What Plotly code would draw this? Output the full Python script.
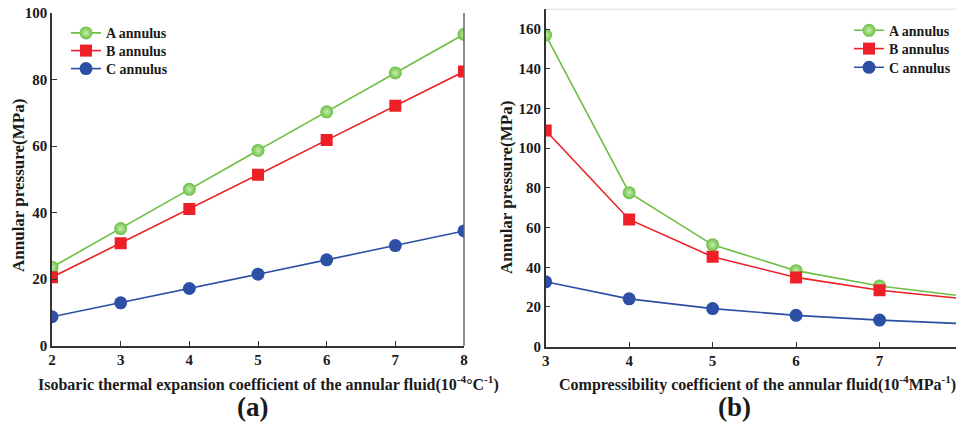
import plotly.graph_objects as go

# ---- data ----
x_a = [2, 3, 4, 5, 6, 7, 8]
a_ann_a = [23.6, 35.2, 47.0, 58.7, 70.3, 82.0, 93.6]
b_ann_a = [20.6, 30.8, 41.1, 51.4, 61.8, 72.1, 82.4]
c_ann_a = [8.7, 12.9, 17.2, 21.5, 25.8, 30.1, 34.5]

x_b = [3, 4, 5, 6, 7, 8]
a_ann_b = [157.0, 77.6, 51.3, 38.3, 30.6, 25.5]
b_ann_b = [108.9, 64.1, 45.3, 34.9, 28.4, 24.2]
c_ann_b = [32.7, 24.1, 19.2, 15.8, 13.4, 11.6]

yticks_a = [0, 20, 40, 60, 80, 100]
yticks_b = [0, 20, 40, 60, 80, 100, 120, 140, 160]

series_names = ["A annulus", "B annulus", "C annulus"]
GREEN, RED, BLUE = "#6bbf42", "#ee1f26", "#2d4fa5"
FONT = "Liberation Serif, Times New Roman, serif"
TXT = "#1a1a1a"

# page body has an 8px margin; positions below are in screen px minus 8
W, H = 956, 416
OFF = 8
def px_x(p): return (p - OFF) / W
def px_y(p): return 1 - (p - OFF) / H

fig = go.Figure()

def add_series(xs, ys_list, xaxis, yaxis, legends):
    styles = [
        dict(color=GREEN, symbol="circle", size=13,
             gradient=dict(type="radial", color="#c6eeb0")),
        dict(color=RED, symbol="square", size=12),
        dict(color=BLUE, symbol="circle", size=13),
    ]
    lcolors = [GREEN, RED, BLUE]
    for name, ys, st, lc, lg in zip(series_names, ys_list, styles, lcolors, legends):
        fig.add_trace(go.Scatter(
            x=xs, y=ys, name=name, mode="lines+markers",
            line=dict(color=lc, width=1.6),
            marker=dict(line=dict(width=0), **st),
            xaxis=xaxis, yaxis=yaxis, legend=lg, cliponaxis=True,
        ))

add_series(x_a, [a_ann_a, b_ann_a, c_ann_a], "x", "y", ["legend", "legend2", "legend3"])
add_series(x_b, [a_ann_b, b_ann_b, c_ann_b], "x2", "y2", ["legend4", "legend5", "legend6"])

tickfont = dict(family=FONT, size=15, color=TXT, weight="bold")
common_axis = dict(
    showline=True, linecolor="#333", linewidth=1.5,
    ticks="inside", ticklen=5, tickwidth=1.3, tickcolor="#333",
    showgrid=False, zeroline=False, tickfont=tickfont,
    ticklabeloverflow="allow",
)

legfont = dict(family=FONT, size=14, color=TXT, weight="bold")
def leg(xs, ys):
    return dict(x=px_x(xs), y=px_y(ys), xanchor="left", yanchor="middle",
                font=legfont, bgcolor="rgba(0,0,0,0)", itemwidth=30)

fig.update_layout(
    width=W, height=H,
    margin=dict(l=0, r=0, t=0, b=0, autoexpand=False),
    plot_bgcolor="white", paper_bgcolor="white",
    font=dict(family=FONT, color=TXT),
    xaxis=dict(domain=[px_x(52), px_x(464)], range=[2, 8], dtick=1,
               anchor="y", **common_axis),
    yaxis=dict(domain=[px_y(345.7), px_y(13)], range=[0, 100], tickvals=yticks_a,
               anchor="x", **common_axis),
    xaxis2=dict(domain=[px_x(545.7), px_x(963)], range=[3, 8], dtick=1,
                anchor="y2", **common_axis),
    yaxis2=dict(domain=[px_y(346.7), px_y(9.2)], range=[0, 170], tickvals=yticks_b,
                anchor="x2", **common_axis),
    legend=leg(66, 33.3),
    legend2=leg(66, 51),
    legend3=leg(66, 69),
    legend4=leg(849, 30.7),
    legend5=leg(849, 49),
    legend6=leg(849, 67.7),
    showlegend=True,
)

fig.add_shape(type="line", xref="x domain", yref="y domain", x0=1, x1=1, y0=0, y1=1,
              line=dict(color="#666", width=1.5))
fig.add_shape(type="line", xref="x2 domain", yref="y2 domain", x0=0, x1=1, y0=1, y1=1,
              line=dict(color="#ddd", width=1))

def ann(xp, yp, text, xanchor="center", **kw):
    fig.add_annotation(x=px_x(xp), y=px_y(yp), xref="paper", yref="paper",
                       xanchor=xanchor, yanchor="middle", text=text,
                       showarrow=False, **kw)

ytitle_font = dict(family=FONT, size=17, color=TXT)
xtitle_font = dict(family=FONT, size=16, color=TXT)
ann(18, 186, "<b>Annular pressure(MPa)</b>", textangle=-90, font=ytitle_font)
ann(506, 188, "<b>Annular pressure(MPa)</b>", textangle=-90, font=ytitle_font)
ann(36, 383, "<b>Isobaric thermal expansion coefficient of the annular fluid(10<sup>-4</sup>°C<sup>-1</sup>)</b>",
    xanchor="left", font=xtitle_font)
ann(557, 383, "<b>Compressibility coefficient of the annular fluid(10<sup>-4</sup>MPa<sup>-1</sup>)</b>",
    xanchor="left", font=xtitle_font)
ann(252, 407, "<b>(a)</b>", font=dict(family=FONT, size=27, color=TXT))
ann(734, 407, "<b>(b)</b>", font=dict(family=FONT, size=27, color=TXT))

fig.write_html("out.html")
